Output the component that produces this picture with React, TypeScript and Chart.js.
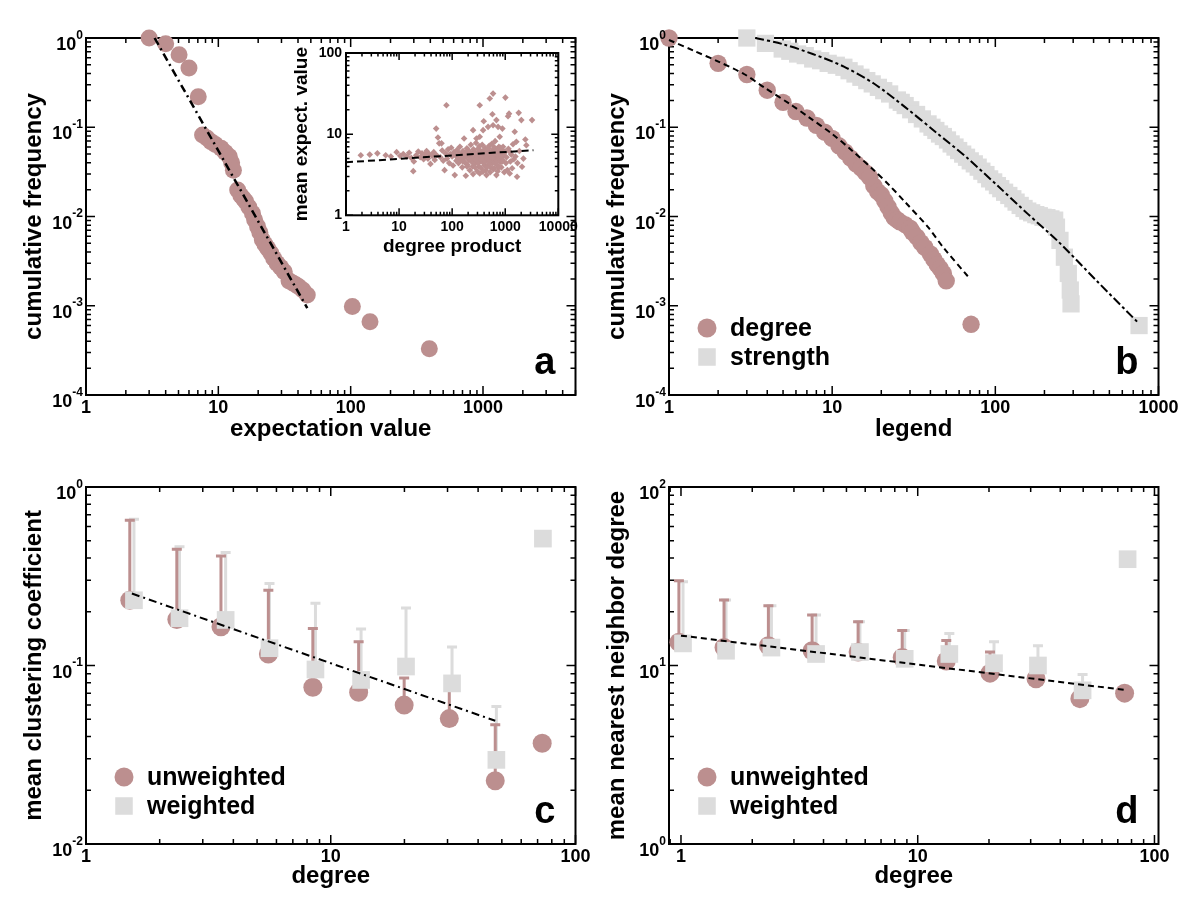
import { useEffect, useRef } from 'react';
import { Chart, registerables } from 'chart.js';

Chart.register(...registerables);

const FONT = '"Liberation Sans", Arial, Helvetica, sans-serif';
const ROSY = '#bc8f8f';
const GREY = '#dcdcdc';
const BLACK = '#000000';

// ---------------- Panel a: expectation value ----------------
const aExpectation = [3.0, 4.0, 5.05, 6.0, 7.05, 7.6, 8.2, 8.8, 9.5, 10.5, 11.3, 12.1, 12.6, 13.0, 14.0, 14.8, 15.5, 16.1, 17.0, 18.1, 18.8, 19.8, 20.6, 21.5, 22.5, 23.6, 24.9, 26.2, 27.8, 29.6, 31.5, 34.2, 36.5, 38.5, 40.6, 43.5, 47.0, 103, 140, 393];
const aCumFreq = [1.0, 0.86, 0.65, 0.46, 0.22, 0.082, 0.076, 0.069, 0.064, 0.058, 0.052, 0.047, 0.040, 0.033, 0.0198, 0.0172, 0.0158, 0.0147, 0.0128, 0.0109, 0.0092, 0.0077, 0.0066, 0.0055, 0.0049, 0.0044, 0.0039, 0.0034, 0.0030, 0.0027, 0.0024, 0.0019, 0.0018, 0.00172, 0.00163, 0.0015, 0.00132, 0.00098, 0.00066, 0.00033];
const aFitX = [3.3, 47];
const aFitY = [1.0, 0.00094];

// inset: degree product vs mean expectation value
const insetScatter: [number, number][] = [
  [1.9, 5.5], [2.8, 5.6], [3.9, 5.8], [5.6, 5.5], [7.0, 5.3], [9.0, 6.0], [10.5, 5.4], [12, 5.7], [14, 5.3], [15.5, 5.9],
  [17, 5.1], [18.5, 3.5], [19, 4.6], [21, 5.5], [23, 6.1], [25, 5.2], [27, 5.8], [29, 4.9], [31, 5.6], [33, 6.2],
  [35, 5.0], [37, 5.7], [39, 4.3], [42, 5.4], [45, 6.0], [47, 4.8], [50, 11.7], [51, 5.5], [54, 9.1], [57, 7.7],
  [60, 5.2], [63, 7.7], [65, 6.3], [68, 4.7], [72, 3.6], [75, 5.8], [78, 22.7], [80, 5.0], [84, 6.5], [88, 4.4],
  [92, 5.7], [96, 6.8], [100, 5.3], [104, 4.1], [108, 6.0], [112, 3.13], [115, 5.5], [120, 4.7], [124, 6.4], [128, 5.1],
  [132, 4.4], [136, 5.8], [140, 7.0], [145, 4.9], [150, 5.6], [155, 3.9], [160, 6.2], [165, 5.0], [168, 8.85], [172, 4.5],
  [176, 5.9], [181, 3.07], [185, 5.3], [190, 6.7], [195, 4.2], [200, 5.7], [205, 4.8], [210, 6.1], [215, 3.6], [220, 5.2],
  [225, 7.4], [230, 4.6], [236, 5.8], [242, 4.0], [248, 11.2], [248, 3.22], [252, 6.5], [258, 5.0], [264, 4.3], [270, 6.0],
  [276, 5.4], [282, 7.8], [287, 8.85], [290, 4.7], [296, 3.5], [302, 5.9], [308, 6.6], [314, 4.4], [320, 5.2], [326, 7.1],
  [331, 9.3], [331, 22.7], [331, 3.28], [338, 4.9], [345, 6.2], [352, 3.8], [360, 5.6], [368, 7.4], [375, 4.5], [383, 11.2],
  [390, 6.0], [394, 14.4], [400, 5.1], [408, 4.1], [416, 6.8], [425, 5.4], [433, 3.6], [443, 3.13], [450, 4.8], [460, 6.3],
  [475, 12.3], [480, 5.7], [490, 4.3], [500, 7.2], [511, 27.5], [520, 5.0], [530, 3.9], [545, 6.1], [560, 4.6], [574, 17.6],
  [580, 5.5], [590, 31.6], [590, 12.9], [600, 3.7], [615, 6.6], [630, 4.9], [645, 8.2], [660, 5.3], [682, 14.9], [682, 3.13],
  [690, 4.2], [705, 6.0], [720, 3.5], [733, 12.3], [745, 5.1], [760, 7.0], [788, 9.3], [800, 4.5], [820, 5.8], [845, 3.9],
  [870, 6.4], [885, 11.7], [900, 4.8], [910, 7.0], [930, 5.5], [960, 3.4], [990, 6.1], [140, 5.2], [160, 4.6], [180, 5.5],
  [200, 6.3], [220, 4.9], [240, 5.4], [260, 5.8], [280, 4.9], [300, 5.3], [320, 6.1], [340, 5.5], [360, 4.8], [380, 5.9],
  [400, 6.4], [420, 4.6], [440, 5.6], [460, 5.0], [480, 6.7], [500, 4.7], [520, 5.9], [540, 5.2], [560, 7.6], [580, 4.4],
  [600, 5.8], [620, 6.9], [640, 4.5], [660, 6.2], [680, 5.6], [700, 4.7], [720, 6.4], [750, 5.4], [780, 4.9], [810, 6.8],
  [850, 5.2], [880, 4.6], [950, 5.8], [320, 4.0], [450, 3.9], [270, 3.9], [520, 3.4], [620, 3.8], [380, 3.45], [760, 3.9],
  [190, 4.0], [1008, 28.2], [1030, 4.4], [1060, 5.2], [1099, 3.61], [1130, 16.6], [1150, 6.6], [1180, 17.9], [1216, 3.28], [1216, 6.07],
  [1250, 4.6], [1300, 5.6], [1350, 3.8], [1400, 7.5], [1450, 4.9], [1510, 10.7], [1560, 5.3], [1622, 8.05], [1670, 2.99], [1700, 4.4],
  [1795, 18.3], [1850, 6.2], [2014, 14.9], [2074, 3.97], [2200, 5.0], [2395, 8.6], [2500, 7.3], [3200, 14.9],
];
const insetFitX = [1, 3400];
const insetFitY = [4.5, 6.35];

// ---------------- Panel b: degree / strength distributions ----------------
const bDegree = [1, 2, 3, 4, 5, 6, 7, 8, 9, 10, 11, 12, 13, 14, 15, 16, 17, 18, 19, 20, 21, 22, 23, 24, 25, 26, 28, 30, 31, 33, 35, 37, 40, 42, 44, 46, 48, 50, 71];
const bDegreeFreq = [1.0, 0.52, 0.39, 0.26, 0.19, 0.15, 0.127, 0.105, 0.088, 0.075, 0.062, 0.053, 0.045, 0.039, 0.035, 0.031, 0.0275, 0.022, 0.019, 0.0175, 0.015, 0.0128, 0.0110, 0.0097, 0.0092, 0.0087, 0.0081, 0.0074, 0.0067, 0.0059, 0.0051, 0.0045, 0.0038, 0.0033, 0.0029, 0.0026, 0.0023, 0.0019, 0.00062];
const bStrength = [3, 3.9, 4.94, 5.5, 6.14, 6.84, 7.6, 8.5, 9.45, 10.6, 11.8, 12.7, 13.8, 15, 16.3, 17.6, 19.2, 20.7, 22.5, 25.1, 26.5, 28, 30.3, 32.9, 35.7, 38.7, 40.9, 43.2, 45.5, 48, 50.9, 53.6, 56.6, 59.6, 63.1, 66.6, 70.2, 74.3, 78.5, 82.7, 87.6, 92.3, 97.7, 103, 108, 114, 121, 128, 134, 142, 150, 158, 167, 177, 186, 196, 207, 219, 231, 237, 249, 265, 280, 288, 291, 760];
const bStrengthFreq = [1.0, 0.87, 0.753, 0.71, 0.662, 0.635, 0.582, 0.557, 0.52, 0.495, 0.47, 0.43, 0.395, 0.363, 0.333, 0.306, 0.28, 0.257, 0.236, 0.202, 0.19, 0.175, 0.157, 0.139, 0.124, 0.109, 0.1, 0.092, 0.084, 0.0787, 0.072, 0.065, 0.06, 0.0548, 0.05, 0.0461, 0.042, 0.0389, 0.0357, 0.0322, 0.0295, 0.0264, 0.0244, 0.0222, 0.0205, 0.0187, 0.0172, 0.0158, 0.0145, 0.0133, 0.0123, 0.0115, 0.011, 0.0105, 0.0102, 0.0098, 0.0097, 0.0094, 0.0091, 0.0076, 0.0054, 0.0035, 0.0023, 0.0015, 0.00105, 0.0006];
const bDegreeFitX = [1, 1.42, 1.99, 2.88, 3.87, 5.51, 7.22, 10, 13.1, 18.1, 22.5, 28, 38.7, 48, 68.4];
const bDegreeFitY = [0.95, 0.72, 0.548, 0.395, 0.276, 0.182, 0.129, 0.084, 0.0557, 0.0327, 0.0222, 0.0145, 0.0076, 0.0045, 0.0021];
const bStrengthFitX = [3.38, 4.94, 7.6, 11.8, 18.2, 28, 43.2, 66.6, 103, 158, 244, 418, 760];
const bStrengthFitY = [1.0, 0.857, 0.662, 0.478, 0.305, 0.168, 0.088, 0.046, 0.0222, 0.0107, 0.0052, 0.0019, 0.00063];
const bLegendLabels = ['degree', 'strength'];

// ---------------- Panel c: clustering ----------------
const cDegreeUnw = [1.51, 2.35, 3.56, 5.56, 8.45, 13.0, 19.95, 30.5, 47, 73.1];
const cClusterUnw = [0.232, 0.181, 0.165, 0.116, 0.0755, 0.0708, 0.060, 0.0504, 0.0226, 0.0367];
const cClusterUnwErr = [0.651, 0.448, 0.41, 0.264, 0.161, 0.136, 0.085, 0.075, 0.0465, null];
const cDegreeW = [1.57, 2.41, 3.72, 5.62, 8.66, 13.3, 20.3, 31.3, 47.5, 73.6];
const cClusterW = [0.232, 0.184, 0.18, 0.125, 0.095, 0.083, 0.0987, 0.0794, 0.0296, 0.514];
const cClusterWErr = [0.66, 0.462, 0.43, 0.288, 0.223, 0.16, 0.21, 0.127, 0.059, null];
const cFitX = [1.54, 47];
const cFitY = [0.253, 0.049];

// ---------------- Panel d: nearest neighbour degree ----------------
const dDegreeUnw = [0.98, 1.52, 2.34, 3.58, 5.6, 8.6, 13.2, 20.2, 31.6, 48.4, 74.8];
const dKnnUnw = [13.5, 12.6, 12.9, 12.1, 11.9, 11.1, 10.6, 9.06, 8.43, 6.52, 7.0];
const dKnnUnwErr = [29.8, 23.3, 21.6, 19.2, 17.6, 15.7, 13.8, 11.9, 9.5, 7.8, null];
const dDegreeW = [1.02, 1.55, 2.41, 3.72, 5.7, 8.81, 13.6, 21, 32.2, 49.7, 77];
const dKnnW = [13.3, 12.1, 12.6, 11.6, 11.9, 10.9, 11.6, 10.3, 10.0, 7.26, 39.4];
const dKnnWErr = [29.5, 23.3, 21.6, 19.2, 17.6, 15.7, 15.1, 13.6, 12.9, 8.9, null];
const dFitX = [1.0, 74.8];
const dFitY = [14.7, 7.3];
const cdLegendLabels = ['unweighted', 'weighted'];

// ---------------- tick labels ----------------
const xTicks1000 = [1, 10, 100, 1000];
const xLabels1000 = ['1', '10', '100', '1000'];
const xTicks100 = [1, 10, 100];
const xLabels100 = ['1', '10', '100'];
const insetXTicks = [1, 10, 100, 1000, 10000];
const insetXLabels = ['1', '10', '100', '1000', '10000'];
const insetYTicks = [1, 10, 100];
const insetYLabels = ['1', '10', '100'];
const yTicksFreq = [1, 0.1, 0.01, 0.001, 0.0001];
const yExpFreq = ['0', '-1', '-2', '-3', '-4'];
const yTicksClust = [1, 0.1, 0.01];
const yExpClust = ['0', '-1', '-2'];
const yTicksKnn = [100, 10, 1];
const yExpKnn = ['2', '1', '0'];

// ---------------- helpers ----------------
const toPts = (xs: number[], ys: number[]) => xs.map((x, i) => ({ x, y: ys[i] }));

function markers(data: any[], style: string, color: string, radius: number, order: number) {
  return {
    data, showLine: false, pointStyle: style, pointRadius: radius, pointHoverRadius: radius,
    pointBackgroundColor: color, backgroundColor: color, pointBorderWidth: 0, borderWidth: 0,
    borderColor: color, clip: false, order,
  };
}

function fitLine(data: any[], dash: number[], width = 2, tension = 0) {
  return {
    data, showLine: true, borderColor: BLACK, borderWidth: width, borderDash: dash,
    pointRadius: 0, pointHoverRadius: 0, tension, fill: false, clip: false, order: 0,
  };
}

function logSteps(min: number, max: number) {
  const out: { v: number; major: boolean }[] = [];
  const e0 = Math.floor(Math.log10(min));
  const e1 = Math.ceil(Math.log10(max));
  for (let e = e0; e <= e1; e++) {
    for (let m = 1; m < 10; m++) {
      const v = m * Math.pow(10, e);
      if (v >= min * 0.999 && v <= max * 1.001) out.push({ v, major: m === 1 });
    }
  }
  return out;
}

type ErrBar = { xs: number[]; ys: number[]; tops: (number | null)[]; color: string };
type LegendItem = { kind: 'circle' | 'square'; color: string; label: string };

interface PanelSpec {
  key: string;
  left: number; top: number; width: number; height: number;
  area: { left: number; top: number; right: number; bottom: number };
  xMin: number; xMax: number; xTicks: number[]; xLabels: string[]; xTitle: string; xTitlePad: number;
  yMin: number; yMax: number; yTicks: number[]; yLabels: string[]; yExps?: string[]; yTitle: string; yTitlePad: number;
  tickSize: number; supSize: number; titleSize: number; tickPad: number; yLabelGap: number;
  majorLen: number; minorLen: number; frameWidth: number;
  datasets: any[];
  letter?: string;
  legend?: LegendItem[];
  legendR?: number; legendSide?: number;
  errorBars?: ErrBar[];
}

function makeFramePlugin(s: PanelSpec) {
  return {
    id: 'xmFrame',
    beforeDatasetsDraw(chart: any) {
      const { ctx, chartArea: a, scales } = chart;
      const xs = scales.x;
      const ys = scales.y;
      ctx.save();
      (s.errorBars || []).forEach((eb) => {
        ctx.strokeStyle = eb.color;
        ctx.lineWidth = 3;
        eb.xs.forEach((xv, i) => {
          const t = eb.tops[i];
          if (t == null) return;
          const px = xs.getPixelForValue(xv);
          const p0 = ys.getPixelForValue(eb.ys[i]);
          const p1 = ys.getPixelForValue(t);
          ctx.beginPath();
          ctx.moveTo(px, p0);
          ctx.lineTo(px, p1);
          ctx.moveTo(px - 5, p1);
          ctx.lineTo(px + 5, p1);
          ctx.stroke();
        });
      });
      ctx.strokeStyle = BLACK;
      ctx.lineWidth = s.frameWidth;
      ctx.strokeRect(a.left, a.top, a.right - a.left, a.bottom - a.top);
      ctx.lineWidth = 1.5;
      ctx.beginPath();
      logSteps(xs.min, xs.max).forEach(({ v, major }) => {
        const p = xs.getPixelForValue(v);
        const len = major ? s.majorLen : s.minorLen;
        ctx.moveTo(p, a.bottom);
        ctx.lineTo(p, a.bottom - len);
        ctx.moveTo(p, a.top);
        ctx.lineTo(p, a.top + len);
      });
      logSteps(ys.min, ys.max).forEach(({ v, major }) => {
        const p = ys.getPixelForValue(v);
        const len = major ? s.majorLen : s.minorLen;
        ctx.moveTo(a.left, p);
        ctx.lineTo(a.left + len, p);
        ctx.moveTo(a.right, p);
        ctx.lineTo(a.right - len, p);
      });
      ctx.stroke();
      ctx.restore();
    },
    afterDatasetsDraw(chart: any) {
      const { ctx, chartArea: a, scales } = chart;
      const ys = scales.y;
      ctx.save();
      ctx.fillStyle = BLACK;
      const xr = a.left - s.yLabelGap;
      s.yTicks.forEach((v, i) => {
        const p = ys.getPixelForValue(v);
        ctx.textAlign = 'right';
        if (s.yExps) {
          ctx.textBaseline = 'alphabetic';
          ctx.font = `bold ${s.supSize}px ${FONT}`;
          const ex = s.yExps[i];
          const ew = ctx.measureText(ex).width;
          ctx.fillText(ex, xr, p + 0.5);
          ctx.font = `bold ${s.tickSize}px ${FONT}`;
          ctx.fillText(s.yLabels[i], xr - ew, p + 12);
        } else {
          ctx.textBaseline = 'middle';
          ctx.font = `bold ${s.tickSize}px ${FONT}`;
          ctx.fillText(s.yLabels[i], xr, p);
        }
      });
      if (s.letter) {
        ctx.font = `bold 38px ${FONT}`;
        ctx.textAlign = 'right';
        ctx.textBaseline = 'alphabetic';
        ctx.fillText(s.letter, a.right - 20, a.bottom - 21);
      }
      (s.legend || []).forEach((it, i) => {
        const cy = a.bottom + (i === 0 ? -67 : -38);
        const cx = a.left + 38;
        ctx.fillStyle = it.color;
        if (it.kind === 'circle') {
          ctx.beginPath();
          ctx.arc(cx, cy, s.legendR || 9, 0, Math.PI * 2);
          ctx.fill();
        } else {
          const side = s.legendSide || 17;
          ctx.fillRect(cx - side / 2, cy - side / 2, side, side);
        }
        ctx.fillStyle = BLACK;
        ctx.font = `bold 25px ${FONT}`;
        ctx.textAlign = 'left';
        ctx.textBaseline = 'alphabetic';
        ctx.fillText(it.label, a.left + 61, cy + 8);
      });
      ctx.restore();
    },
  };
}

function buildConfig(s: PanelSpec): any {
  const area = s.area;
  const tickFont = { family: FONT, size: s.tickSize, weight: 'bold' };
  const titleFont = { family: FONT, size: s.titleSize, weight: 'bold', lineHeight: 1.2 };
  return {
    type: 'scatter',
    data: { datasets: s.datasets },
    options: {
      animation: false,
      responsive: false,
      maintainAspectRatio: false,
      devicePixelRatio: 1,
      events: [],
      layout: { autoPadding: false, padding: { left: 0, top: area.top, right: s.width - area.right, bottom: 0 } },
      plugins: { legend: { display: false }, tooltip: { enabled: false }, title: { display: false } },
      scales: {
        x: {
          type: 'logarithmic', position: 'bottom', min: s.xMin, max: s.xMax, bounds: 'data',
          afterBuildTicks: (sc: any) => { sc.ticks = s.xTicks.map((v) => ({ value: v })); },
          afterFit: (sc: any) => { sc.height = s.height - area.bottom; },
          grid: { display: false, drawTicks: false },
          border: { display: false },
          ticks: {
            autoSkip: false, maxRotation: 0, minRotation: 0, padding: s.tickPad, color: BLACK, font: tickFont,
            callback: (_v: any, i: number) => s.xLabels[i],
          },
          title: { display: true, text: s.xTitle, color: BLACK, font: titleFont, padding: { top: 0, bottom: s.xTitlePad } },
        },
        y: {
          type: 'logarithmic', position: 'left', min: s.yMin, max: s.yMax, bounds: 'data',
          afterFit: (sc: any) => { sc.width = area.left; },
          grid: { display: false, drawTicks: false },
          border: { display: false },
          ticks: { display: false },
          title: { display: true, text: s.yTitle, color: BLACK, font: titleFont, padding: { top: s.yTitlePad, bottom: 0 } },
        },
      },
    },
    plugins: [makeFramePlugin(s)],
  };
}

const TOP_AREA = { left: 86, top: 38, right: 575.5, bottom: 395 };
const BOTTOM_AREA = { left: 86, top: 32, right: 575.5, bottom: 389 };
const MAIN = {
  width: 600, height: 455, tickSize: 18, supSize: 12, titleSize: 24, tickPad: 2, yLabelGap: 3,
  majorLen: 9, minorLen: 5, frameWidth: 2, yTitlePad: 20, legendR: 9.5, legendSide: 17.5,
};

const PANELS: PanelSpec[] = [
  {
    ...MAIN, key: 'a', left: 0, top: 0, area: TOP_AREA,
    xMin: 1, xMax: 5000, xTicks: xTicks1000, xLabels: xLabels1000, xTitle: 'expectation value', xTitlePad: 11.6,
    yMin: 0.0001, yMax: 1, yTicks: yTicksFreq, yLabels: yTicksFreq.map(() => '10'), yExps: yExpFreq, yTitle: 'cumulative frequency',
    letter: 'a',
    datasets: [
      fitLine(toPts(aFitX, aFitY), [8, 4, 2, 4], 2.5),
      markers(toPts(aExpectation, aCumFreq), 'circle', ROSY, 8.5, 2),
    ],
  },
  {
    key: 'inset', left: 280, top: 40, width: 310, height: 225,
    area: { left: 66, top: 13, right: 278.3, bottom: 175.3 },
    xMin: 1, xMax: 10000, xTicks: insetXTicks, xLabels: insetXLabels, xTitle: 'degree product', xTitlePad: 6.6,
    yMin: 1, yMax: 100, yTicks: insetYTicks, yLabels: insetYLabels, yTitle: 'mean expect. value', yTitlePad: 10.6,
    tickSize: 14, supSize: 10, titleSize: 19, tickPad: 3, yLabelGap: 4, majorLen: 7, minorLen: 3.5, frameWidth: 2,
    datasets: [
      fitLine(toPts(insetFitX, insetFitY), [7, 4], 2),
      markers(insetScatter.map(([x, y]) => ({ x, y })), 'rectRot', ROSY, 3.3, 2),
    ],
  },
  {
    ...MAIN, key: 'b', left: 583, top: 0, area: TOP_AREA,
    xMin: 1, xMax: 1000, xTicks: xTicks1000, xLabels: xLabels1000, xTitle: 'legend', xTitlePad: 11.6,
    yMin: 0.0001, yMax: 1, yTicks: yTicksFreq, yLabels: yTicksFreq.map(() => '10'), yExps: yExpFreq, yTitle: 'cumulative frequency',
    letter: 'b',
    legend: [
      { kind: 'circle', color: ROSY, label: bLegendLabels[0] },
      { kind: 'square', color: GREY, label: bLegendLabels[1] },
    ],
    datasets: [
      fitLine(toPts(bDegreeFitX, bDegreeFitY), [6, 4], 2, 0.3),
      fitLine(toPts(bStrengthFitX, bStrengthFitY), [9, 3, 3, 3], 2, 0.3),
      markers(toPts(bStrength, bStrengthFreq), 'rect', GREY, 12.2, 1),
      markers(toPts(bDegree, bDegreeFreq), 'circle', ROSY, 8.7, 2),
    ],
  },
  {
    ...MAIN, key: 'c', left: 0, top: 455, area: BOTTOM_AREA,
    xMin: 1, xMax: 100, xTicks: xTicks100, xLabels: xLabels100, xTitle: 'degree', xTitlePad: 19,
    yMin: 0.01, yMax: 1, yTicks: yTicksClust, yLabels: yTicksClust.map(() => '10'), yExps: yExpClust, yTitle: 'mean clustering coefficient',
    letter: 'c',
    legend: [
      { kind: 'circle', color: ROSY, label: cdLegendLabels[0] },
      { kind: 'square', color: GREY, label: cdLegendLabels[1] },
    ],
    errorBars: [
      { xs: cDegreeW, ys: cClusterW, tops: cClusterWErr, color: GREY },
      { xs: cDegreeUnw, ys: cClusterUnw, tops: cClusterUnwErr, color: ROSY },
    ],
    datasets: [
      fitLine(toPts(cFitX, cFitY), [8, 4, 2, 4], 2),
      markers(toPts(cDegreeW, cClusterW), 'rect', GREY, 12.5, 1),
      markers(toPts(cDegreeUnw, cClusterUnw), 'circle', ROSY, 9.5, 2),
    ],
  },
  {
    ...MAIN, key: 'd', left: 583, top: 455, area: BOTTOM_AREA,
    xMin: 0.89, xMax: 104, xTicks: xTicks100, xLabels: xLabels100, xTitle: 'degree', xTitlePad: 19,
    yMin: 1, yMax: 100, yTicks: yTicksKnn, yLabels: yTicksKnn.map(() => '10'), yExps: yExpKnn, yTitle: 'mean nearest neighbor degree',
    letter: 'd',
    legend: [
      { kind: 'circle', color: ROSY, label: cdLegendLabels[0] },
      { kind: 'square', color: GREY, label: cdLegendLabels[1] },
    ],
    errorBars: [
      { xs: dDegreeW, ys: dKnnW, tops: dKnnWErr, color: GREY },
      { xs: dDegreeUnw, ys: dKnnUnw, tops: dKnnUnwErr, color: ROSY },
    ],
    datasets: [
      fitLine(toPts(dFitX, dFitY), [6, 4], 2),
      markers(toPts(dDegreeW, dKnnW), 'rect', GREY, 12.5, 1),
      markers(toPts(dDegreeUnw, dKnnUnw), 'circle', ROSY, 9.5, 2),
    ],
  },
];

function LogPanel({ spec }: { spec: PanelSpec }) {
  const ref = useRef<HTMLCanvasElement>(null);
  useEffect(() => {
    if (!ref.current) return;
    const chart = new Chart(ref.current, buildConfig(spec));
    return () => chart.destroy();
  }, [spec]);
  return (
    <canvas
      ref={ref}
      width={spec.width}
      height={spec.height}
      style={{ position: 'absolute', left: spec.left, top: spec.top, width: spec.width, height: spec.height, display: 'block' }}
    />
  );
}

export default function App() {
  return (
    <div style={{ position: 'absolute', left: 0, top: 0, width: 1200, height: 910, background: '#ffffff', overflow: 'hidden' }}>
      {PANELS.map((p) => (
        <LogPanel key={p.key} spec={p} />
      ))}
    </div>
  );
}
